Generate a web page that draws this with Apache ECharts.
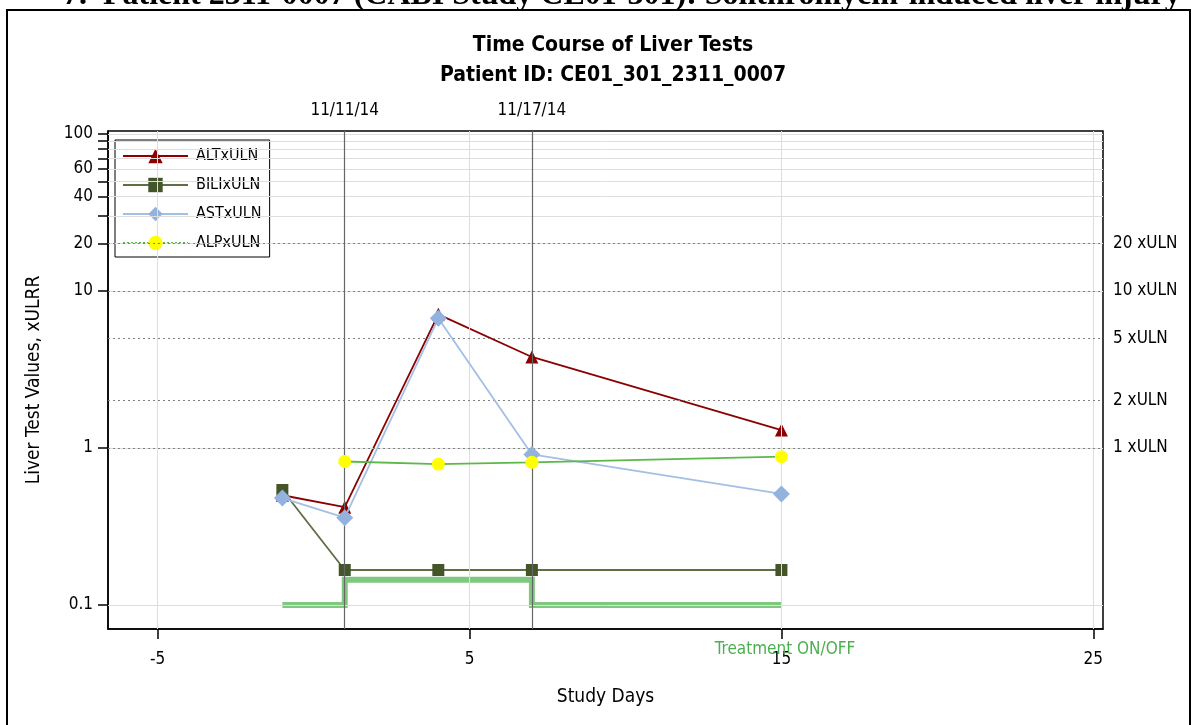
<!DOCTYPE html>
<html>
<head>
<meta charset="utf-8">
<script src="https://cdn.jsdelivr.net/npm/echarts@6/dist/echarts.min.js"></script>
<style>
  html, body { margin: 0; padding: 0; background: #fff; }
  #panel { width: 1193px; height: 725px; }
</style>
</head>
<body>
<div id="panel"></div>
<script>
// study days of each visit
const days = [-1, 1, 4, 7, 15];
// liver tests as multiples of ULN
const altData = [0.5, 0.42, 7.1, 3.8, 1.3];
const biliData = [0.54, 0.167, 0.167, 0.167, 0.167];
const astData = [0.48, 0.36, 6.7, 0.91, 0.51];
const alpData = [null, 0.82, 0.79, 0.81, 0.88];
// treatment on/off step (drawn near the bottom)
const treatDays = [-1, 1, 7, 15];
const treatLevel = [0.1, 0.145, 0.1, 0.1];
// date reference lines
const dateDays = [1, 7];
const dateLabels = ['11/11/14', '11/17/14'];
// axis ticks
const xTickValues = [-5, 5, 15, 25];
const yLabelValues = [0.1, 1, 10, 20, 40, 60, 100];
const yTickValues = [0.1, 1, 10, 20, 30, 40, 50, 60, 70, 80, 90, 100];
const yGridValues = [0.1, 1, 10, 20, 30, 40, 50, 60, 70, 80, 90, 100];
// xULN reference lines
const ulnValues = [20, 10, 5, 2, 1];
const ulnLabels = ['20 xULN', '10 xULN', '5 xULN', '2 xULN', '1 xULN'];

const FONT = "'Liberation Sans Narrow', 'DejaVu Sans Condensed', 'Liberation Sans', sans-serif";

const pairs = (xs, ys) => xs.map((x, i) => [x, ys[i]]);

const myChart = echarts.init(document.getElementById('panel'), null, { renderer: 'canvas' });

const gridLines = [];
yGridValues.forEach(v => gridLines.push({ yAxis: v }));
xTickValues.forEach(v => gridLines.push({ xAxis: v }));

const refLines = ulnValues.map((v, i) => ({
  yAxis: v,
  label: { formatter: ulnLabels[i] },
}));

const dateLines = dateDays.map((d, i) => ({
  xAxis: d,
  label: { formatter: dateLabels[i] },
}));

const option = {
  backgroundColor: '#fff',
  animation: false,
  textStyle: { fontFamily: FONT },
  title: [
    {
      text: '7.  Patient 2311-0007 (CABI Study CE01-301): Solithromycin-induced liver injury',
      left: 58,
      top: -25,
      textStyle: { fontFamily: "'Liberation Serif', 'DejaVu Serif', serif", fontSize: 32, fontWeight: 'bold', color: '#000' },
    },
    {
      text: 'Time Course of Liver Tests',
      left: 608,
      textAlign: 'center',
      top: 30,
      textStyle: { fontFamily: FONT, fontSize: 21, fontWeight: 'bold', color: '#000' },
    },
    {
      text: 'Patient ID: CE01_301_2311_0007',
      left: 608,
      textAlign: 'center',
      top: 60,
      textStyle: { fontFamily: FONT, fontSize: 21, fontWeight: 'bold', color: '#000' },
    },
    {
      text: 'Treatment ON/OFF',
      left: 780,
      textAlign: 'center',
      top: 636,
      textStyle: { fontFamily: FONT, fontSize: 17, fontWeight: 'normal', color: '#4caf50' },
    },
  ],
  graphic: [
    {
      type: 'rect',
      left: 6,
      top: 9,
      shape: { width: 1183, height: 740 },
      style: { fill: '#fff', stroke: '#000', lineWidth: 2 },
      silent: true,
      z: -10,
    },
  ],
  legend: {
    orient: 'vertical',
    left: 115,
    top: 140,
    padding: [8, 8, 6, 7],
    itemWidth: 65,
    itemHeight: 18,
    itemGap: 13,
    borderColor: '#000',
    borderWidth: 1,
    textStyle: { fontFamily: FONT, fontSize: 16, color: '#000', padding: [0, 0, 0, 3] },
    data: [
      { name: 'ALTxULN' },
      { name: 'BILIxULN' },
      { name: 'ASTxULN' },
      { name: 'ALPxULN', lineStyle: { type: 'dotted', width: 2 } },
    ],
  },
  grid: {
    left: 108,
    right: 90,
    top: 131,
    bottom: 96,
    show: true,
    borderColor: '#000',
    borderWidth: 1.5,
  },
  xAxis: {
    type: 'value',
    min: -6.59,
    max: 25.31,
    name: 'Study Days',
    nameLocation: 'middle',
    nameGap: 59,
    nameTextStyle: { fontFamily: FONT, fontSize: 19, color: '#000' },
    axisLine: { show: true, onZero: false, lineStyle: { color: '#000', width: 1.5 } },
    axisTick: { show: true, length: 10, customValues: xTickValues, lineStyle: { color: '#000', width: 1.5 } },
    axisLabel: { customValues: xTickValues, margin: 22, fontFamily: FONT, fontSize: 17, color: '#000' },
    splitLine: { show: false },
  },
  yAxis: {
    type: 'log',
    logBase: 10,
    min: 0.0703,
    max: 104.5,
    name: 'Liver Test Values, xULRR',
    nameLocation: 'middle',
    nameGap: 64,
    nameTextStyle: { fontFamily: FONT, fontSize: 19, color: '#000' },
    axisLine: { show: true, onZero: false, lineStyle: { color: '#000', width: 1.5 } },
    axisTick: { show: true, length: 10, customValues: yTickValues, lineStyle: { color: '#000', width: 1.5 } },
    axisLabel: {
      customValues: yLabelValues,
      margin: 15,
      fontFamily: FONT,
      fontSize: 17,
      color: '#000',
      formatter: v => String(+Number(v).toPrecision(3)),
    },
    splitLine: { show: false },
    minorSplitLine: { show: false },
  },
  series: [
    {
      name: 'gridlines',
      type: 'line',
      data: [],
      silent: true,
      z: 1,
      markLine: {
        silent: true,
        symbol: 'none',
        label: { show: false },
        lineStyle: { color: '#dedede', type: 'solid', width: 1 },
        data: gridLines,
      },
    },
    {
      name: 'refs',
      type: 'line',
      data: [],
      silent: true,
      z: 2,
      markLine: {
        silent: true,
        symbol: 'none',
        label: {
          show: true,
          position: 'end',
          distance: 10,
          fontFamily: FONT,
          fontSize: 17,
          color: '#000',
        },
        lineStyle: { color: '#808080', type: [2, 3], width: 1.2 },
        data: refLines,
      },
    },
    {
      name: 'dates',
      type: 'line',
      data: [],
      silent: true,
      z: 2,
      markLine: {
        silent: true,
        symbol: 'none',
        label: {
          show: true,
          position: 'end',
          distance: 12,
          fontFamily: FONT,
          fontSize: 17,
          color: '#000',
        },
        lineStyle: { color: '#666', type: 'solid', width: 1.2 },
        data: dateLines,
      },
    },
    {
      name: 'Treatment',
      type: 'line',
      step: 'end',
      data: pairs(treatDays, treatLevel),
      showSymbol: false,
      symbol: 'none',
      silent: true,
      lineStyle: { color: '#80c880', width: 6, type: 'solid', join: 'miter', cap: 'butt', opacity: 1 },
      emphasis: { disabled: true },
      z: 3,
    },
    {
      name: 'ALTxULN',
      type: 'line',
      data: pairs(days, altData),
      symbol: 'triangle',
      symbolSize: 13,
      itemStyle: { color: '#8b0000' },
      lineStyle: { color: '#8b0000', width: 1.8 },
      z: 4,
    },
    {
      name: 'BILIxULN',
      type: 'line',
      data: pairs(days, biliData),
      symbol: 'rect',
      symbolSize: 12,
      itemStyle: { color: '#44552a' },
      lineStyle: { color: '#5f6e45', width: 1.8 },
      z: 4,
    },
    {
      name: 'ASTxULN',
      type: 'line',
      data: pairs(days, astData),
      symbol: 'diamond',
      symbolSize: 17,
      itemStyle: { color: '#93b3de' },
      lineStyle: { color: '#a3bfe4', width: 1.8 },
      z: 5,
    },
    {
      name: 'ALPxULN',
      type: 'line',
      data: pairs(days, alpData),
      symbol: 'circle',
      symbolSize: 13,
      itemStyle: { color: '#ffff00' },
      lineStyle: { color: '#5cb84a', width: 1.8 },
      z: 6,
    },
  ],
};

myChart.setOption(option);
</script>
</body>
</html>
